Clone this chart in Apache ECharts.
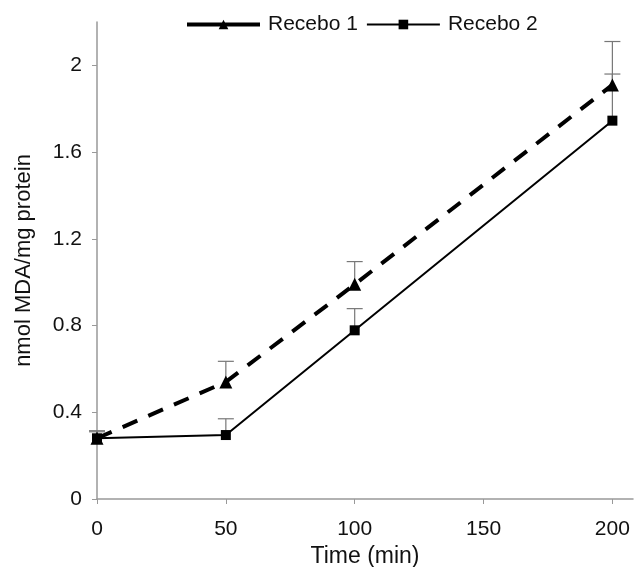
<!DOCTYPE html>
<html><head><meta charset="utf-8">
<script src="https://cdn.jsdelivr.net/npm/echarts@6/dist/echarts.min.js"></script>
<style>html,body{margin:0;padding:0;background:#fff}#c{width:634px;height:567px}</style>
</head><body><div id="c"></div>
<script>
const times = [0, 50, 100, 200];
const recebo1 = [0.28, 0.54, 0.99, 1.91];
const recebo1Err = [0.03, 0.095, 0.105, 0.20];
const recebo2 = [0.28, 0.295, 0.778, 1.745];
const recebo2Err = [0.035, 0.075, 0.10, 0.215];
const xTicks = [0, 50, 100, 150, 200];
const yTicks = [0, 0.4, 0.8, 1.2, 1.6, 2];

const font = 'Liberation Sans, Arial, sans-serif';
function errSeries(vals, errs, name) {
  return {
    type: 'custom', name: name + ' err', silent: true, z: 1,
    data: times.map((t, i) => [t, vals[i], vals[i] + errs[i]]),
    renderItem: function (params, api) {
      const p0 = api.coord([api.value(0), api.value(1)]);
      const p1 = api.coord([api.value(0), api.value(2)]);
      const w = 8;
      return { type: 'group', children: [
        { type: 'line', shape: { x1: p0[0], y1: p0[1], x2: p1[0], y2: p1[1] }, style: { stroke: '#777', lineWidth: 1.2 } },
        { type: 'line', shape: { x1: p1[0] - w, y1: p1[1], x2: p1[0] + w, y2: p1[1] }, style: { stroke: '#777', lineWidth: 1.2 } }
      ]};
    }
  };
}
const chart = echarts.init(document.getElementById('c'), null, { renderer: 'canvas' });
chart.setOption({
  animation: false,
  backgroundColor: '#fff',
  textStyle: { fontFamily: font },
  grid: { left: 97, right: 1, top: 22, bottom: 68, containLabel: false, outerBoundsMode: 'none' },
  legend: {
    top: 14, left: 185, padding: 0, itemWidth: 73, itemHeight: 12, itemGap: 8,
    textStyle: { fontSize: 21, color: '#111', fontFamily: font, padding: [0, 0, 0, 3] },
    data: [
      { name: 'Recebo 1', lineStyle: { type: 'solid', width: 4, color: '#000' } },
      { name: 'Recebo 2', lineStyle: { type: 'solid', width: 2, color: '#000' } }
    ]
  },
  xAxis: {
    type: 'value', min: 0, max: 208,
    name: 'Time (min)', nameLocation: 'middle', nameGap: 39,
    nameTextStyle: { fontSize: 23, color: '#111', fontFamily: font },
    axisLine: { lineStyle: { color: '#999', width: 1.5 } },
    axisTick: { customValues: xTicks, length: 5, inside: false, lineStyle: { color: '#999' } },
    axisLabel: { customValues: xTicks, fontSize: 21, color: '#111', margin: 20 },
    splitLine: { show: false }
  },
  yAxis: {
    type: 'value', min: 0, max: 2.2,
    name: 'nmol MDA/mg protein', nameLocation: 'middle', nameGap: 62,
    nameTextStyle: { fontSize: 22, color: '#111', fontFamily: font },
    axisLine: { show: true, lineStyle: { color: '#999', width: 1.5 } },
    axisTick: { show: true, customValues: yTicks, length: 5, lineStyle: { color: '#999' } },
    axisLabel: { customValues: yTicks, fontSize: 21, color: '#111', margin: 15 },
    splitLine: { show: false }
  },
  series: [
    errSeries(recebo1, recebo1Err, 'Recebo 1'),
    errSeries(recebo2, recebo2Err, 'Recebo 2'),
    {
      name: 'Recebo 1', type: 'line', z: 3,
      data: times.map((t, i) => [t, recebo1[i]]),
      symbol: 'triangle', symbolSize: 13,
      itemStyle: { color: '#000' },
      lineStyle: { color: '#000', width: 4, type: [16, 12] }
    },
    {
      name: 'Recebo 2', type: 'line', z: 3,
      data: times.map((t, i) => [t, recebo2[i]]),
      symbol: 'rect', symbolSize: 10,
      itemStyle: { color: '#000' },
      lineStyle: { color: '#000', width: 2 }
    }
  ]
});
</script></body></html>
